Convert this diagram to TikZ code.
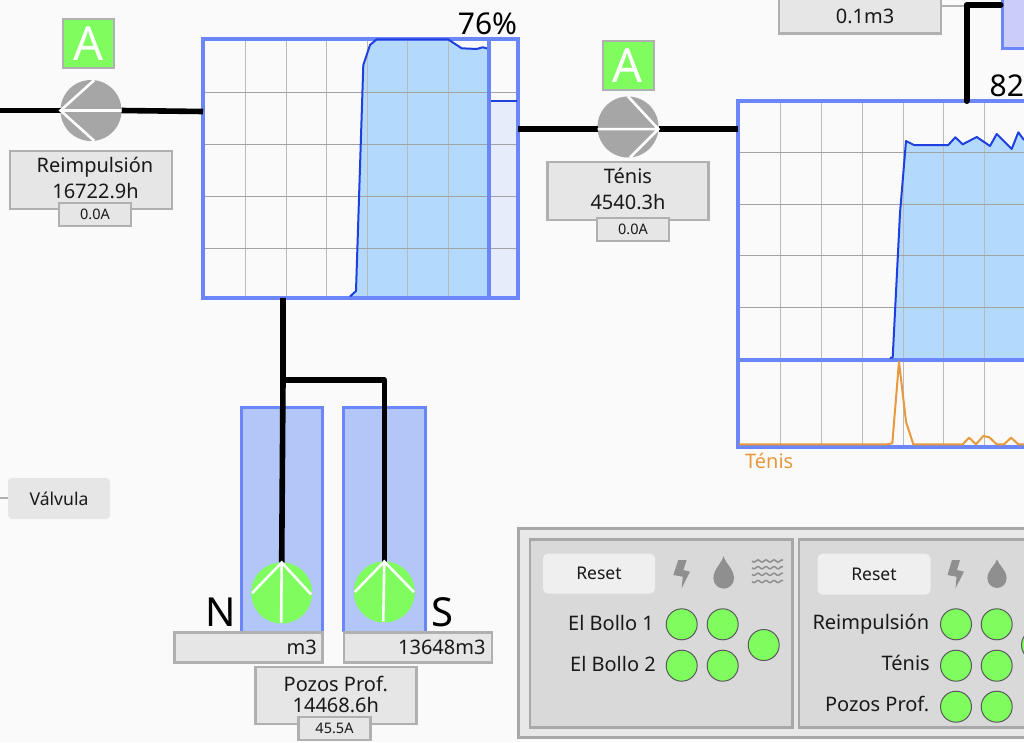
\documentclass[tikz,border=0pt]{standalone}
\usepackage{fontspec}
\setmainfont{Noto Sans}
\definecolor{bg}{HTML}{FAFAFA}
\definecolor{tankblue}{HTML}{6A86F8}
\definecolor{linedark}{HTML}{1F40E0}
\definecolor{areafill}{HTML}{B3DAFC}
\definecolor{sidefill}{HTML}{E6ECFA}
\definecolor{wellfill}{HTML}{B3C6F8}
\definecolor{purplefill}{HTML}{CCCCF8}
\definecolor{okgreen}{HTML}{7FFC5E}
\definecolor{pumpgray}{HTML}{A6A6A6}
\definecolor{boxfill}{HTML}{E6E6E6}
\definecolor{boxline}{HTML}{B0B0B0}
\definecolor{gridv}{HTML}{BABABA}
\definecolor{gridh}{HTML}{A2A2A2}
\definecolor{orangeline}{HTML}{E8993C}
\definecolor{panelfill}{HTML}{E8E8E8}
\definecolor{subfill}{HTML}{D9D9D9}
\definecolor{panelline}{HTML}{A8A8A8}
\definecolor{iconfill}{HTML}{8F8F8F}
\newcommand{\fs}[1]{\fontsize{#1}{#1}\selectfont}
\newcommand{\up}[1]{\rule[-#1pt]{0pt}{0pt}}
\newcommand{\vanes}[5]{\draw[vane] (#1.#2) -- (#1.#3) -- (#1.#4) (#1.#3) -- (#1.#5);}
\tikzset{
  pipe/.style={draw=black,line width=5.6pt,line join=round},
  pumpnode/.style={circle,minimum size=61pt,inner sep=0pt,outer sep=0pt},
  vanepump/.style={circle,minimum size=59pt,inner sep=0pt,outer sep=0pt},
  vane/.style={draw=white,line width=2.6pt,line join=miter},
  abox/.style={rectangle,draw=boxline,line width=2pt,fill=okgreen,text=white,minimum width=51pt,minimum height=49pt,inner sep=0pt,font=\fs{47}},
  infobox/.style={rectangle,draw=boxline,line width=2.5pt,fill=boxfill,inner sep=0pt,outer sep=0pt,align=center,font=\fontsize{20}{25.8}\selectfont,text=black!90},
  ampbox/.style={infobox,font=\fs{14.5},minimum width=72pt,minimum height=23pt},
  tanknode/.style={rectangle,draw=tankblue,line width=4pt,inner sep=0pt,outer sep=0pt},
  wellnode/.style={rectangle,fill=wellfill,inner sep=0pt,outer sep=0pt,minimum width=81.5pt,minimum height=225pt},
  wellside/.style={draw=tankblue,line width=3pt},
  gv/.style={draw=gridv,line width=1.3pt},
  gh/.style={draw=gridh,line width=1.3pt},
  trend/.style={draw=linedark,line width=2pt,line join=round},
  big/.style={font=\fs{30},inner sep=0pt,text=black},
  led/.style={circle,draw=black!65,line width=1pt,fill=okgreen,minimum size=31pt,inner sep=0pt},
  plabel/.style={anchor=base east,font=\fs{20},inner sep=0pt,text=black!90},
  resetbtn/.style={rectangle,rounded corners=5pt,fill=panelfill!70!white,font=\fs{17.5},inner sep=0pt,text=black!90},
  subpanel/.style={rectangle,draw=panelline,line width=2.5pt,fill=subfill,inner sep=0pt},
}
\begin{document}
\begin{tikzpicture}[x=1pt,y=-1pt]
\useasboundingbox (0,0) rectangle (1024,742);
\clip (0,0) rectangle (1024,742);
\fill[bg] (0,0) rectangle (1024,742);

%% ---- panel
\node[rectangle,draw=panelline,line width=3pt,fill=panelfill,minimum width=600pt,minimum height=209pt,inner sep=0pt] (panel) at (818,632.5) {};
\node[subpanel,minimum width=262.5pt,minimum height=188pt] (sub1) at (661.3,633.3) {};
\node[subpanel,minimum width=300pt,minimum height=188pt] (sub2) at (949,633.3) {};
\node[resetbtn,minimum width=112pt,minimum height=40pt] (reset1) at (599,573.5) {\raisebox{-1pt}{Reset}};
\node[resetbtn,minimum width=113pt,minimum height=41pt] (reset2) at (874,574.2) {\raisebox{-1pt}{Reset}};
% icons
\fill[iconfill] (678.3,560) -- (686.7,560) -- (683.3,570) -- (690,571.7) -- (681.7,588.3) -- (682.7,576.7) -- (673.3,575) -- cycle;
\fill[iconfill] (952,560) -- (960,560) -- (957,570) -- (964,571.7) -- (955.5,588.3) -- (956.5,576.7) -- (947.5,575) -- cycle;
\fill[iconfill] (723.5,556) .. controls (725,563) and (734,569) .. (734,578.3) arc[start angle=0,end angle=180,x radius=10.3pt,y radius=-10.3pt] .. controls (713.4,569) and (722,563) .. cycle;
\fill[iconfill] (997,559.3) .. controls (998.5,565) and (1006.6,570) .. (1006.6,578.3) arc[start angle=0,end angle=180,x radius=9.6pt,y radius=-9.6pt] .. controls (987.4,570) and (995.5,565) .. cycle;
\foreach \wy in {561,567.7,574.3,581.5}
  \draw[iconfill,line width=1.5pt] plot[domain=0:31,samples=32] ({752+\x},{\wy+1.1*sin(45*\x)});
% leds
\node[led] (a1) at (681.7,624.3) {};
\node[led] (a2) at (722.7,624.3) {};
\node[led] (a3) at (681.7,665.7) {};
\node[led] (a4) at (722.7,665.7) {};
\node[led] (a5) at (763.7,645) {};
\node[led] (b1) at (956,624.3) {};
\node[led] (b2) at (996.7,624.3) {};
\node[led] (b3) at (956,665.7) {};
\node[led] (b4) at (996.7,665.7) {};
\node[led] (b5) at (956,706.7) {};
\node[led] (b6) at (996.7,706.7) {};
\node[led] (b7) at (1037,645) {};
\node[plabel] at (654,630) {El Bollo 1};
\node[plabel] at (656,671) {El Bollo 2};
\node[plabel] at (929.3,629) {Reimpulsión};
\node[plabel] at (930,670) {Ténis};
\node[plabel] at (929.5,711) {Pozos Prof.};

%% ---- tank 1
\fill[areafill] (350,297) -- (356,291) -- (363.3,65) -- (370,45) -- (376.7,39.3) -- (448,39.3) -- (461.7,48.3) -- (476.7,49) -- (482.7,47.3) -- (488,48.7) -- (488,297) -- cycle;
\fill[sidefill] (490,101) rectangle (518,298);
\foreach \gx in {245.5,286.5,326.5,367.5,407.5,448.5}
  \draw[gv] (\gx,40) -- (\gx,298);
\foreach \gy in {92.5,144.5,196.5,248.5}
  \draw[gh] (203,\gy) -- (518,\gy);
\node[tanknode,minimum width=315pt,minimum height=258.5pt] (tank1) at (360.5,168.7) {};
\draw[trend] (350,296.5) -- (356,291) -- (363.3,65) -- (370,45) -- (376.7,39.3) -- (448,39.3) -- (461.7,48.3) -- (476.7,49) -- (482.7,47.3) -- (488,48.7);
\draw[tankblue,line width=4pt] (489,39) -- (489,298);
\draw[trend] (491,101.3) -- (517,101.3);
\node[big,anchor=base] (pct1) at (487.5,34) {76\%};

%% ---- tank 2
\fill[areafill] (892.7,358) -- (900,213) -- (906,141) -- (914,145) -- (948.3,145) -- (955.3,137.3) -- (962.7,144.3) -- (976.7,137) -- (990,146) -- (996.7,134) -- (1011.7,149) -- (1018.3,132.3) -- (1024,140) -- (1024,358) -- cycle;
\foreach \gx in {780.5,821.5,862.5,903.5,943.5,984.5}
  \draw[gv] (\gx,102) -- (\gx,446);
\foreach \gy in {152.5,204.5,255.5,307.5}
  \draw[gh] (739,\gy) -- (1024,\gy);
\node[tanknode,minimum width=400pt,minimum height=346pt] (tank2) at (938,274) {};
\draw[tankblue,line width=4pt] (738,359.5) -- (1024,359.5);
\draw[trend] (890,358) -- (892.7,357.3) -- (900,213) -- (906,141) -- (914,145) -- (948.3,145) -- (955.3,137.3) -- (962.7,144.3) -- (976.7,137) -- (990,146) -- (996.7,134) -- (1011.7,149) -- (1018.3,132.3) -- (1024,140);
\draw[orangeline,line width=2pt,line join=round] (739,444.3) -- (886.7,444.3) -- (892.3,443.3) -- (899,361.7) -- (906,421.7) -- (913.3,444.3) -- (962.7,444.3) -- (969,437.7) -- (976,444.3) -- (983.3,436) -- (989.3,437.3) -- (996.7,444.3) -- (1004,444.3) -- (1011,437.7) -- (1018.3,444.3) -- (1024,444.3);
\node[big,anchor=base west] (pct2) at (989.5,96.5) {82};
\node[anchor=base west,font=\fs{20},inner sep=0pt,text=orangeline] (teniscap) at (745,468.5) {Ténis};

%% ---- top right
\node[rectangle,draw=tankblue,line width=3pt,fill=purplefill,minimum width=100pt,minimum height=90pt,inner sep=0pt] (blue) at (1052,3) {};
\node[infobox,minimum width=162pt,minimum height=60pt] (vol) at (860,3.5) {};
\node[anchor=base,font=\fs{20},inner sep=0pt,text=black!90] at (865,23) {0.1m3};
\coordinate (jt) at (966.5,5);
\draw[boxline,line width=2.5pt] (vol.east |- 0,6) -- (964,6);
\draw[pipe,line width=6pt,line cap=round] (tank2.north -| jt) -- (jt) -- (blue.west |- jt);

%% ---- wells
\node[wellnode] (wellN) at (282,519.5) {};
\node[wellnode] (wellS) at (384.7,519.5) {};
\draw[wellside] (wellN.south west) -- (wellN.north west) -- (wellN.north east) -- (wellN.south east);
\draw[wellside] (wellS.south west) -- (wellS.north west) -- (wellS.north east) -- (wellS.south east);

%% ---- pumps
\node[pumpnode,fill=pumpgray] (pumpA) at (91,110.5) {};
\node[pumpnode,fill=pumpgray] (pumpB) at (628,127) {};
\node[pumpnode,fill=okgreen] (pumpN) at (281.7,593) {};
\node[pumpnode,fill=okgreen] (pumpS) at (384.3,592) {};
\node[vanepump] (vaneN) at (281.7,593) {};
\node[vanepump] (vaneS) at (384.3,592) {};

\coordinate (lstart) at (0,110.5);
\coordinate (j1) at (283,380);
\draw[pipe] (lstart) -- (pumpA.west);
\draw[pipe] (pumpA.east) -- (tank1.west |- 0,111.5);
\draw[pipe] (tank1.east |- 0,129) -- (pumpB.west |- 0,129);
\draw[pipe] (pumpB.east |- 0,129) -- (tank2.west |- 0,129);
\draw[pipe] (tank1.south -| j1) -- (j1) -- (pumpN.north);
\draw[pipe] (j1) -| (pumpS.north);

\vanes{pumpA}{84}{180}{-84}{0}
\vanes{pumpB}{90}{-4}{-86}{184}
\draw[vane] (vaneN.180) -- (pumpN.90) -- (vaneN.-3) (pumpN.90) -- (vaneN.-91);
\draw[vane] (vaneS.180) -- (pumpS.90) -- (vaneS.0) (pumpS.90) -- (vaneS.-92);

\node[abox] (aA) at (88.5,43.7) {A};
\node[abox] (aB) at (628,65.7) {A};

%% ---- info boxes
\node[infobox,minimum width=162pt,minimum height=58pt] (reim) at (91,180) {\hspace*{8pt}Reimpulsión\\\hspace*{9pt}16722.9h\up{5}};
\node[ampbox] (reimA) at (95,214.5) {0.0A};
\node[infobox,minimum width=161pt,minimum height=58pt] (teni) at (628,191) {Ténis\\4540.3h\up{4}};
\node[ampbox] (teniA) at (633,229.7) {0.0A};
\node[infobox,minimum width=148pt,minimum height=30pt,font=\fs{20}] (volN) at (248.7,647.7) {\hspace*{106pt}m3};
\node[infobox,minimum width=148pt,minimum height=30pt,font=\fs{20}] (volS) at (417.8,647.7) {\hspace*{48pt}13648m3};
\node[infobox,minimum width=161pt,minimum height=57pt,font=\fontsize{20}{21}\selectfont] (pozos) at (335.8,695.3) {Pozos Prof.\\14468.6h\up{2}};
\node[ampbox] (pozosA) at (334.5,728.3) {45.5A};
\node[big,anchor=base,font=\fs{40}] (labN) at (220.5,626) {N};
\node[big,anchor=base,font=\fs{40}] (labS) at (442,626) {S};

%% ---- valve
\node[rectangle,rounded corners=4pt,fill=boxfill,minimum width=102pt,minimum height=41pt,inner sep=0pt,font=\fs{17.6},text=black!90] (valv) at (59,498.5) {Válvula};
\coordinate (vstart) at (0,498);
\draw[boxline,line width=2pt] (vstart) -- (valv.west |- vstart);
\end{tikzpicture}
\end{document}
